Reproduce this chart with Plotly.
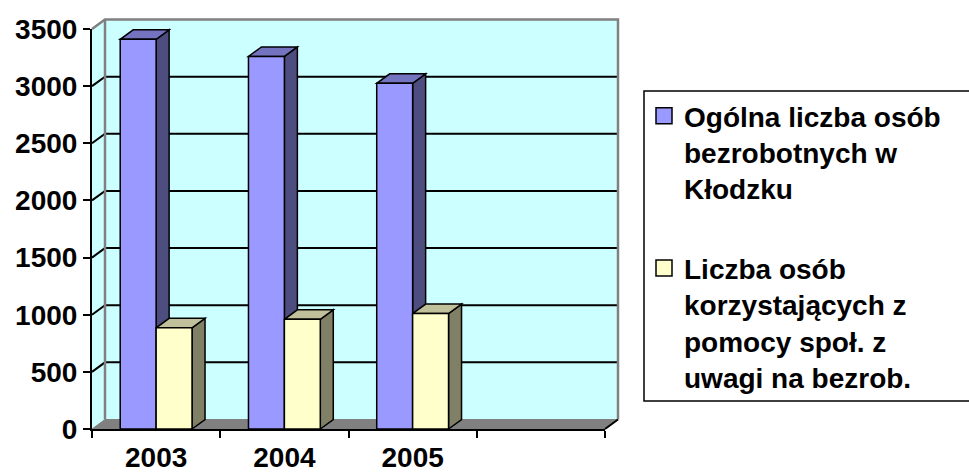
import plotly.graph_objects as go

# ---- data ----
years = ["2003", "2004", "2005"]
total_unemployed = [3410, 3260, 3025]
social_aid = [885, 960, 1010]
y_ticks = [0, 500, 1000, 1500, 2000, 2500, 3000, 3500]
series_names = [
    "Ogólna liczba osób<br>bezrobotnych w<br>Kłodzku",
    "Liczba osób<br>korzystających z<br>pomocy społ. z<br>uwagi na bezrob.",
]

# ---- style ----
FONT = "Arial, Liberation Sans, sans-serif"
C_FRONT = ["#9999FF", "#FFFFCC"]
C_TOP = ["#7373C0", "#C0C09A"]
C_SIDE = ["#4D4D80", "#808066"]
WALL = "#CCFFFF"
GRAY = "#808080"
W, H = 969, 474
ML, MR, MT, MB = 92, 364, 29, 45
XR = [-0.5, 3.5]
YR = [0, 3500]
PLOT_W = W - ML - MR
PLOT_H = H - MT - MB
DXP = 13 / PLOT_W     # depth offset (paper units)
DYP = 9.5 / PLOT_H
BW = 0.28             # bar width in category units
LEG_L, LEG_T, LEG_B, LEG_R = 644, 91, 401, 1000   # legend box, pixels


def px(x):
    return (x - XR[0]) / (XR[1] - XR[0])


def py(y):
    return (y - YR[0]) / (YR[1] - YR[0])


def poly(pts, fill, line_color, lw):
    d = "M" + " L".join(f"{a:.5f},{b:.5f}" for a, b in pts) + " Z"
    return dict(type="path", path=d, xref="paper", yref="paper", layer="below",
                fillcolor=fill, line=dict(color=line_color, width=lw))


def seg(pts, color, lw):
    d = "M" + " L".join(f"{a:.5f},{b:.5f}" for a, b in pts)
    return dict(type="path", path=d, xref="paper", yref="paper", layer="below",
                line=dict(color=color, width=lw))


x0, x1 = px(XR[0]), px(XR[1])
y0, ytop = py(0), py(y_ticks[-1])
shapes = []
# left wall
shapes.append(poly([(x0, y0), (x0 + DXP, y0 + DYP), (x0 + DXP, ytop + DYP), (x0, ytop)], WALL, WALL, 0))
# back wall
shapes.append(poly([(x0 + DXP, y0 + DYP), (x1 + DXP, y0 + DYP), (x1 + DXP, ytop + DYP), (x0 + DXP, ytop + DYP)], WALL, WALL, 0))
# gridlines on walls
for v in y_ticks[1:-1]:
    yv = py(v)
    shapes.append(seg([(x0, yv), (x0 + DXP, yv + DYP), (x1 + DXP, yv + DYP)], "black", 2))
# wall edges (gray)
shapes.append(seg([(x0, ytop), (x0 + DXP, ytop + DYP), (x1 + DXP, ytop + DYP), (x1 + DXP, y0 + DYP)], GRAY, 2.5))
shapes.append(seg([(x0 + DXP, ytop + DYP), (x0 + DXP, y0 + DYP)], GRAY, 2.5))
# floor
shapes.append(poly([(x0, y0), (x1, y0), (x1 + DXP, y0 + DYP), (x0 + DXP, y0 + DYP)], GRAY, GRAY, 1))
shapes.append(seg([(x1, y0), (x1 + DXP, y0 + DYP)], "black", 2))

# 3D faces of bars
for i in range(len(years)):
    for s, vals in enumerate([total_unemployed, social_aid]):
        left = i - BW + s * BW
        right = left + BW
        xl, xr = px(left), px(right)
        yt = py(vals[i])
        shapes.append(poly([(xr, y0), (xr + DXP, y0 + DYP), (xr + DXP, yt + DYP), (xr, yt)], C_SIDE[s], "black", 1.5))
        shapes.append(poly([(xl, yt), (xr, yt), (xr + DXP, yt + DYP), (xl + DXP, yt + DYP)], C_TOP[s], "black", 1.5))

# legend frame (runs off the right edge, as in the original)
shapes.append(dict(type="rect", xref="paper", yref="paper", layer="below",
                   x0=(LEG_L - ML) / PLOT_W, x1=(LEG_R - ML) / PLOT_W,
                   y0=(H - MB - LEG_B) / PLOT_H, y1=(H - MB - LEG_T) / PLOT_H,
                   fillcolor="white", line=dict(color="black", width=1.5)))

fig = go.Figure()
xs = list(range(len(years)))
for s, vals in enumerate([total_unemployed, social_aid]):
    fig.add_trace(go.Bar(x=xs, y=vals, marker=dict(color=C_FRONT[s], line=dict(color="black", width=1.5)),
                         showlegend=False, hoverinfo="y"))
# legend entries
for s in range(2):
    fig.add_trace(go.Scatter(x=[None], y=[None], mode="markers", name=series_names[s],
                             legendgroup=f"g{s}",
                             marker=dict(symbol="square", size=20, color=C_FRONT[s],
                                         line=dict(color="black", width=1.5))))

# invisible trace for the category label axis
fig.add_trace(go.Scatter(x=[None], y=[None], xaxis="x2", showlegend=False))

fig.update_layout(
    width=W, height=H,
    margin=dict(l=ML, r=MR, t=MT, b=MB, autoexpand=False),
    paper_bgcolor="white", plot_bgcolor="rgba(0,0,0,0)",
    barmode="group", bargap=0.44, bargroupgap=0,
    shapes=shapes,
    font=dict(family=FONT, color="black"),
    xaxis=dict(range=XR, tickvals=[-0.5, 0.5, 1.5, 2.5, 3.5], showticklabels=False,
               ticks="outside", ticklen=7, tickwidth=2, tickcolor="black",
               showline=True, linecolor="black", linewidth=2, showgrid=False, zeroline=False),
    xaxis2=dict(range=XR, overlaying="x", anchor="y", side="bottom",
                tickvals=xs, ticktext=years, ticks="", showline=False, showgrid=False,
                zeroline=False, ticklabelstandoff=9,
                tickfont=dict(family=FONT, size=28, weight="bold", color="black")),
    yaxis=dict(range=YR, tickvals=y_ticks, ticks="outside", ticklen=7, tickwidth=2,
               tickcolor="black", showline=True, linecolor="black", linewidth=2,
               showgrid=False, zeroline=False,
               tickfont=dict(family=FONT, size=28, weight="bold", color="black")),
    legend=dict(x=(LEG_L - ML) / PLOT_W, y=(H - MB - LEG_T) / PLOT_H, xanchor="left", yanchor="top",
                bgcolor="rgba(0,0,0,0)", borderwidth=0, valign="top",
                traceorder="grouped", tracegroupgap=40, itemsizing="trace",
                font=dict(family=FONT, size=28, weight="bold", color="black")),
)

fig.write_html("out.html", config={"displayModeBar": False},
               post_script="document.body.style.margin='0';document.body.style.padding='0';")
